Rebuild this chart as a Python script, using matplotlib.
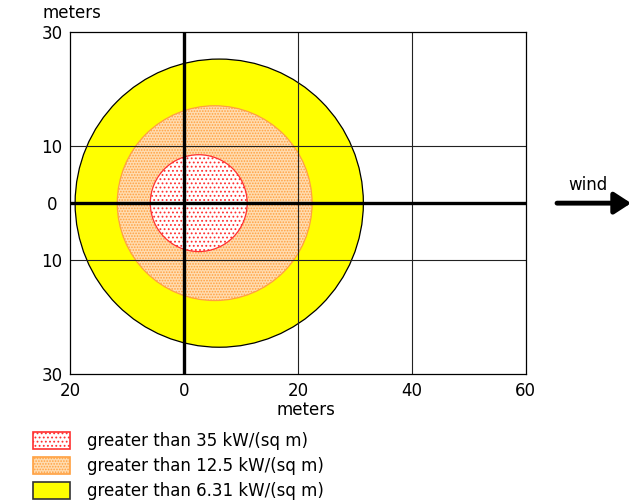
import matplotlib
matplotlib.use('Agg')
import matplotlib.pyplot as plt
from matplotlib.patches import Circle, Patch

plt.rcParams['font.family'] = ['DejaVu Sans']
plt.rcParams['font.size'] = 12
plt.rcParams['hatch.linewidth'] = 0.8

# threat zones (meters), drawn from largest to smallest
zone_labels = ['greater than 35 kW/(sq m)', 'greater than 12.5 kW/(sq m)', 'greater than 6.31 kW/(sq m)']
zone_center_x = [2.6, 5.4, 6.2]
zone_center_y = [0.0, 0.0, 0.0]
zone_radius = [8.5, 17.1, 25.3]
zone_face = ['white', '#ffdcb0', '#ffff00']
zone_edge = ['#ff3030', '#ffa040', 'black']
zone_hatch = ['....', '......', None]

x_ticks = [-20, 0, 20, 40, 60]
x_tick_labels = ['20', '0', '20', '40', '60']
y_ticks = [-30, -10, 0, 10, 30]
y_tick_labels = ['30', '10', '0', '10', '30']

fig = plt.figure(figsize=(6.42, 5.04), dpi=100)
ax = fig.add_axes([70 / 642, 1 - 374 / 504, 455.7 / 642, 341.7 / 504])
ax.set_xlim(-20, 60)
ax.set_ylim(-30, 30)

for i in reversed(range(len(zone_radius))):
    c = Circle((zone_center_x[i], zone_center_y[i]), zone_radius[i],
               facecolor=zone_face[i], edgecolor=zone_edge[i],
               hatch=zone_hatch[i], lw=0.9, zorder=1)
    ax.add_patch(c)

# grid
for x in [20, 40]:
    ax.axvline(x, color='#222222', lw=0.8, zorder=2)
for y in [-10, 10]:
    ax.axhline(y, color='#222222', lw=0.8, zorder=2)
ax.axvline(0, color='black', lw=2.4, zorder=3)
ax.axhline(0, color='black', lw=2.4, zorder=3)

ax.set_xticks(x_ticks)
ax.set_xticklabels(x_tick_labels)
ax.set_yticks(y_ticks)
ax.set_yticklabels(y_tick_labels, ha='center')
ax.tick_params(length=0)
ax.tick_params(axis='y', pad=13)
ax.tick_params(axis='x', pad=6)
for s in ax.spines.values():
    s.set_linewidth(0.9)

ax.set_xlabel('meters', labelpad=0)
ax.xaxis.set_label_coords(236 / 455.7, -27 / 341.7)
ax.xaxis.label.set_va('top')
fig.text(72 / 642, 1 - 13 / 504, 'meters', ha='center', va='center')

# wind arrow
ax.annotate('', xy=(78.5, 0), xytext=(65.5, 0),
            arrowprops=dict(arrowstyle='-|>,head_length=10,head_width=6.5',
                            mutation_scale=1, lw=3.5, color='black',
                            shrinkA=0, shrinkB=0, capstyle='round'),
            annotation_clip=False)
ax.text(70.9, 3.2, 'wind', ha='center', va='center', clip_on=False)

handles = []
for i in range(len(zone_labels)):
    handles.append(Patch(facecolor=zone_face[i], edgecolor=zone_edge[i] if i < 2 else '#333333',
                         hatch=zone_hatch[i], lw=1.2))
fig.legend(handles, zone_labels, loc='upper left', bbox_to_anchor=(33 / 642, 1 - 432 / 504),
           frameon=False, borderpad=0, handlelength=2.2, handleheight=1.15,
           handletextpad=1.05, labelspacing=0.42, borderaxespad=0)

fig.savefig('out.png', dpi=100)
